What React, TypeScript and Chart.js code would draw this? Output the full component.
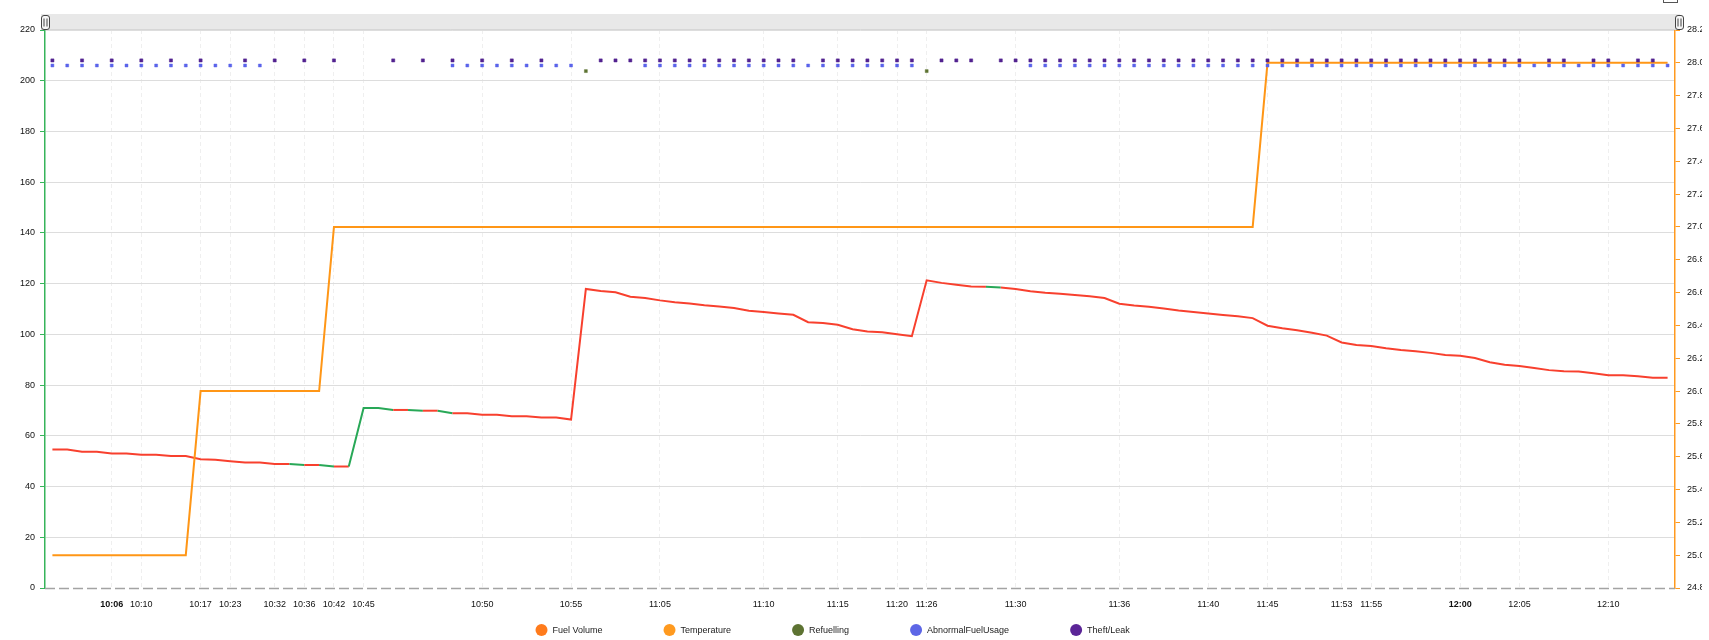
import React, { useEffect, useRef } from 'react';
import { Chart, registerables } from 'chart.js';

Chart.register(...registerables);

// ---- data ----
const fuelVolume = [
  54.6, 54.6, 53.7, 53.7, 53.0, 53.0, 52.5, 52.5, 52.0, 52.0,
  50.8, 50.6, 50.0, 49.5, 49.5, 48.9, 48.9, 48.5, 48.5, 47.9,
  47.9, 71.0, 71.0, 70.2, 70.2, 69.9, 69.9, 68.9, 68.9, 68.3,
  68.3, 67.7, 67.7, 67.2, 67.2, 66.4, 117.9, 117.1, 116.6, 114.8,
  114.3, 113.4, 112.7, 112.2, 111.5, 111.0, 110.4, 109.3, 108.8, 108.2,
  107.7, 104.8, 104.5, 103.8, 102.0, 101.1, 100.8, 100.0, 99.3, 121.3,
  120.3, 119.6, 118.9, 118.8, 118.5, 117.9, 117.0, 116.4, 116.0, 115.5,
  115.0, 114.3, 112.1, 111.4, 110.9, 110.2, 109.4, 108.8, 108.2, 107.6,
  107.1, 106.4, 103.4, 102.4, 101.6, 100.6, 99.5, 96.8, 95.8, 95.4,
  94.5, 93.8, 93.3, 92.7, 91.9, 91.6, 90.7, 89.0, 88.0, 87.5,
  86.7, 85.9, 85.5, 85.4, 84.7, 83.9, 83.9, 83.5, 82.9, 82.9,
];

const temperature = [
  25.0, 25.0, 25.0, 25.0, 25.0, 25.0, 25.0, 25.0, 25.0, 25.0,
  26.0, 26.0, 26.0, 26.0, 26.0, 26.0, 26.0, 26.0, 26.0, 27.0,
  27.0, 27.0, 27.0, 27.0, 27.0, 27.0, 27.0, 27.0, 27.0, 27.0,
  27.0, 27.0, 27.0, 27.0, 27.0, 27.0, 27.0, 27.0, 27.0, 27.0,
  27.0, 27.0, 27.0, 27.0, 27.0, 27.0, 27.0, 27.0, 27.0, 27.0,
  27.0, 27.0, 27.0, 27.0, 27.0, 27.0, 27.0, 27.0, 27.0, 27.0,
  27.0, 27.0, 27.0, 27.0, 27.0, 27.0, 27.0, 27.0, 27.0, 27.0,
  27.0, 27.0, 27.0, 27.0, 27.0, 27.0, 27.0, 27.0, 27.0, 27.0,
  27.0, 27.0, 28.0, 28.0, 28.0, 28.0, 28.0, 28.0, 28.0, 28.0,
  28.0, 28.0, 28.0, 28.0, 28.0, 28.0, 28.0, 28.0, 28.0, 28.0,
  28.0, 28.0, 28.0, 28.0, 28.0, 28.0, 28.0, 28.0, 28.0, 28.0,
];

// fuel-line segments (starting at these points) drawn green
const greenSegmentStarts = [16, 18, 20, 21, 22, 24, 26, 63];

// event markers: point indices and their plotted level
const theftIdx = [
  0, 2, 4, 6, 8, 10, 13, 15, 17, 19, 23, 25, 27, 29, 31, 33,
  37, 38, 39, 40, 41, 42, 43, 44, 45, 46, 47, 48, 49, 50,
  52, 53, 54, 55, 56, 57, 58, 60, 61, 62,
  64, 65, 66, 67, 68, 69, 70, 71, 72, 73, 74, 75, 76, 77, 78, 79,
  80, 81, 82, 83, 84, 85, 86, 87, 88, 89, 90, 91, 92, 93, 94, 95,
  96, 97, 98, 99, 101, 102, 104, 105, 107, 108,
];
const abnormalIdx = [
  0, 1, 2, 3, 4, 5, 6, 7, 8, 9, 10, 11, 12, 13, 14,
  27, 28, 29, 30, 31, 32, 33, 34, 35,
  40, 41, 42, 43, 44, 45, 46, 47, 48, 49, 50, 51, 52, 53, 54, 55, 56, 57, 58,
  66, 67, 68, 69, 70, 71, 72, 73, 74, 75, 76, 77, 78, 79, 80, 81, 82, 83,
  84, 85, 86, 87, 88, 89, 90, 91, 92, 93, 94, 95, 96, 97, 98, 99, 100,
  101, 102, 103, 104, 105, 106, 107, 108, 109,
];
const refuelIdx = [36, 59];
const theftLevel = 208;
const abnormalLevel = 206;
const refuelLevel = 203.8;

// x-axis tick labels (point index -> text)
const tickIndex = [4, 6, 10, 12, 15, 17, 19, 21, 29, 35, 41, 48, 53, 57, 59, 65, 72, 78, 82, 87, 89, 95, 99, 105];
const tickText = [
  '10:06', '10:10', '10:17', '10:23', '10:32', '10:36', '10:42', '10:45', '10:50', '10:55',
  '11:05', '11:10', '11:15', '11:20', '11:26', '11:30', '11:36', '11:40', '11:45', '11:53',
  '11:55', '12:00', '12:05', '12:10',
];
const boldTicks = ['10:06', '12:00'];

const legendNames = ['Fuel Volume', 'Temperature', 'Refuelling', 'AbnormalFuelUsage', 'Theft/Leak'];
const legendColors = ['#ff7b1c', '#ff9a1f', '#5d7332', '#5d66e6', '#5b2597'];

// ---- styles ----
const FONT = "'Liberation Sans', Arial, sans-serif";
const RED = '#f8402e';
const GREEN = '#28a857';
const ORANGE = '#ff9616';
const AXIS_GREEN = '#37b45a';
const AXIS_ORANGE = '#ff9a1f';

const W = 1703;
const H = 640;
const VISIBLE_W = 1702;

const decorPlugin = {
  id: 'decor',
  afterDraw(chart: any) {
    const { ctx, chartArea } = chart;
    const { left, right, bottom } = chartArea;
    ctx.save();
    // dashed baseline
    ctx.strokeStyle = '#a3a3a3';
    ctx.lineWidth = 1.5;
    ctx.setLineDash([10, 4]);
    ctx.beginPath();
    ctx.moveTo(left, bottom + 0.5);
    ctx.lineTo(right, bottom + 0.5);
    ctx.stroke();
    ctx.setLineDash([]);

    // scrollbar band
    ctx.fillStyle = '#e8e8e8';
    ctx.fillRect(left - 4, 14, right - left + 9, 16);
    ctx.strokeStyle = '#d6d6d6';
    ctx.lineWidth = 1;
    ctx.beginPath();
    ctx.moveTo(left - 4, 29.5);
    ctx.lineTo(right + 5, 29.5);
    ctx.stroke();

    const grip = (cx: number) => {
      const gw = 8, gh = 14, gx = cx - gw / 2, gy = 15.5, r = 2.5;
      ctx.beginPath();
      ctx.moveTo(gx + r, gy);
      ctx.lineTo(gx + gw - r, gy);
      ctx.quadraticCurveTo(gx + gw, gy, gx + gw, gy + r);
      ctx.lineTo(gx + gw, gy + gh - r);
      ctx.quadraticCurveTo(gx + gw, gy + gh, gx + gw - r, gy + gh);
      ctx.lineTo(gx + r, gy + gh);
      ctx.quadraticCurveTo(gx, gy + gh, gx, gy + gh - r);
      ctx.lineTo(gx, gy + r);
      ctx.quadraticCurveTo(gx, gy, gx + r, gy);
      ctx.closePath();
      ctx.fillStyle = '#f6f6f6';
      ctx.fill();
      ctx.strokeStyle = '#444';
      ctx.lineWidth = 1;
      ctx.stroke();
      ctx.beginPath();
      ctx.moveTo(cx - 1.5, 18.5); ctx.lineTo(cx - 1.5, 26.5);
      ctx.moveTo(cx + 1.5, 18.5); ctx.lineTo(cx + 1.5, 26.5);
      ctx.stroke();
    };
    grip(left + 0.5);
    grip(right + 4.5);

    // small icon at top right (cut off)
    ctx.fillStyle = '#ffffff';
    ctx.strokeStyle = '#555';
    ctx.lineWidth = 1;
    ctx.fillRect(1663.5, -6, 14, 8.5);
    ctx.strokeRect(1663.5, -6, 14, 8.5);

    // legend
    ctx.font = `9px ${FONT}`;
    ctx.textBaseline = 'middle';
    ctx.textAlign = 'left';
    let x = 541.5;
    const y = 630;
    legendNames.forEach((name, i) => {
      ctx.fillStyle = legendColors[i];
      ctx.beginPath();
      ctx.arc(x, y, 6, 0, Math.PI * 2);
      ctx.fill();
      ctx.fillStyle = '#222';
      ctx.fillText(name, x + 11, y + 0.5);
      x += 11 + ctx.measureText(name).width + 67;
    });
    ctx.restore();
  },
};

export default function App() {
  const ref = useRef<HTMLCanvasElement | null>(null);

  useEffect(() => {
    if (!ref.current) return;
    Chart.defaults.font.family = FONT;
    Chart.defaults.font.size = 9;
    Chart.defaults.color = '#111';

    const categories = fuelVolume.map((_, i) => i);
    const tickMap = new Map<number, string>();
    tickIndex.forEach((idx, k) => tickMap.set(idx, tickText[k]));
    const markerData = (idxs: number[], level: number) =>
      categories.map((i) => (idxs.includes(i) ? level : null));

    const chart = new Chart(ref.current, {
      type: 'line',
      data: {
        labels: categories,
        datasets: [
          {
            label: 'Fuel Volume',
            data: fuelVolume,
            yAxisID: 'y',
            borderColor: RED,
            borderWidth: 2,
            pointRadius: 0,
            tension: 0,
            order: 4,
            segment: {
              borderColor: (c: any) => (greenSegmentStarts.includes(c.p0DataIndex) ? GREEN : RED),
            },
          },
          {
            label: 'Temperature',
            data: temperature,
            yAxisID: 'y2',
            borderColor: ORANGE,
            borderWidth: 2,
            pointRadius: 0,
            tension: 0,
            order: 3,
          },
          {
            label: 'Refuelling',
            data: markerData(refuelIdx, refuelLevel),
            yAxisID: 'y',
            showLine: false,
            pointStyle: 'rect',
            pointRadius: 2.1,
            pointBorderWidth: 1,
            pointBackgroundColor: '#5d7332',
            pointBorderColor: 'rgba(93,115,50,0.45)',
            order: 2,
          },
          {
            label: 'AbnormalFuelUsage',
            data: markerData(abnormalIdx, abnormalLevel),
            yAxisID: 'y',
            showLine: false,
            pointStyle: 'rect',
            pointRadius: 2.1,
            pointBorderWidth: 1,
            pointBackgroundColor: '#5a64ea',
            pointBorderColor: 'rgba(90,100,234,0.45)',
            order: 1,
          },
          {
            label: 'Theft/Leak',
            data: markerData(theftIdx, theftLevel),
            yAxisID: 'y',
            showLine: false,
            pointStyle: 'rect',
            pointRadius: 2.2,
            pointBorderWidth: 1,
            pointBackgroundColor: '#52228f',
            pointBorderColor: 'rgba(82,34,143,0.5)',
            order: 0,
          },
        ] as any,
      },
      options: {
        responsive: false,
        animation: false,
        devicePixelRatio: 1,
        events: [],
        layout: { padding: { top: 30, left: 0, right: 0, bottom: 0 } },
        plugins: {
          legend: { display: false },
          tooltip: { enabled: false },
        },
        scales: {
          x: {
            type: 'category',
            offset: true,
            grid: {
              offset: false,
              drawTicks: false,
              lineWidth: 1,
              color: (c: any) => (tickMap.has(c.index) ? '#efefef' : 'rgba(0,0,0,0)'),
            },
            border: { display: false, dash: [4, 3] },
            ticks: {
              autoSkip: false,
              maxRotation: 0,
              minRotation: 0,
              padding: 11,
              color: '#111',
              font: (c: any) => {
                const t = tickMap.get(c.index);
                return { size: 9, family: FONT, weight: t && boldTicks.includes(t) ? 'bold' : 'normal' };
              },
              callback: (_v: any, i: number) => tickMap.get(i) ?? '',
            },
            afterFit: (s: any) => {
              s.height = 52;
            },
          },
          y: {
            position: 'left',
            min: 0,
            max: 220,
            ticks: { stepSize: 20, padding: 5, color: '#111', font: { size: 9, family: FONT } },
            grid: {
              color: (c: any) => (c.tick && c.tick.value === 0 ? 'rgba(0,0,0,0)' : '#dddddd'),
              lineWidth: 1,
              tickColor: AXIS_GREEN,
              tickLength: 5,
            },
            border: { color: AXIS_GREEN, width: 1.5 },
            afterFit: (s: any) => {
              s.width = 45;
            },
          },
          y2: {
            position: 'right',
            min: 24.8,
            max: 28.2,
            ticks: {
              stepSize: 0.2,
              padding: 7,
              color: '#111',
              font: { size: 9, family: FONT },
              callback: (v: any) => Number(v).toFixed(1),
            },
            grid: { drawOnChartArea: false, tickColor: AXIS_ORANGE, tickLength: 5 },
            border: { color: AXIS_ORANGE, width: 1.5 },
            afterFit: (s: any) => {
              s.width = 28;
            },
          },
        },
      } as any,
      plugins: [decorPlugin],
    });
    return () => chart.destroy();
  }, []);

  return (
    <div
      style={{
        position: 'absolute',
        left: 0,
        top: 0,
        width: VISIBLE_W,
        height: H,
        overflow: 'hidden',
        background: '#fff',
      }}
    >
      <canvas ref={ref} width={W} height={H} style={{ display: 'block' }} />
    </div>
  );
}
